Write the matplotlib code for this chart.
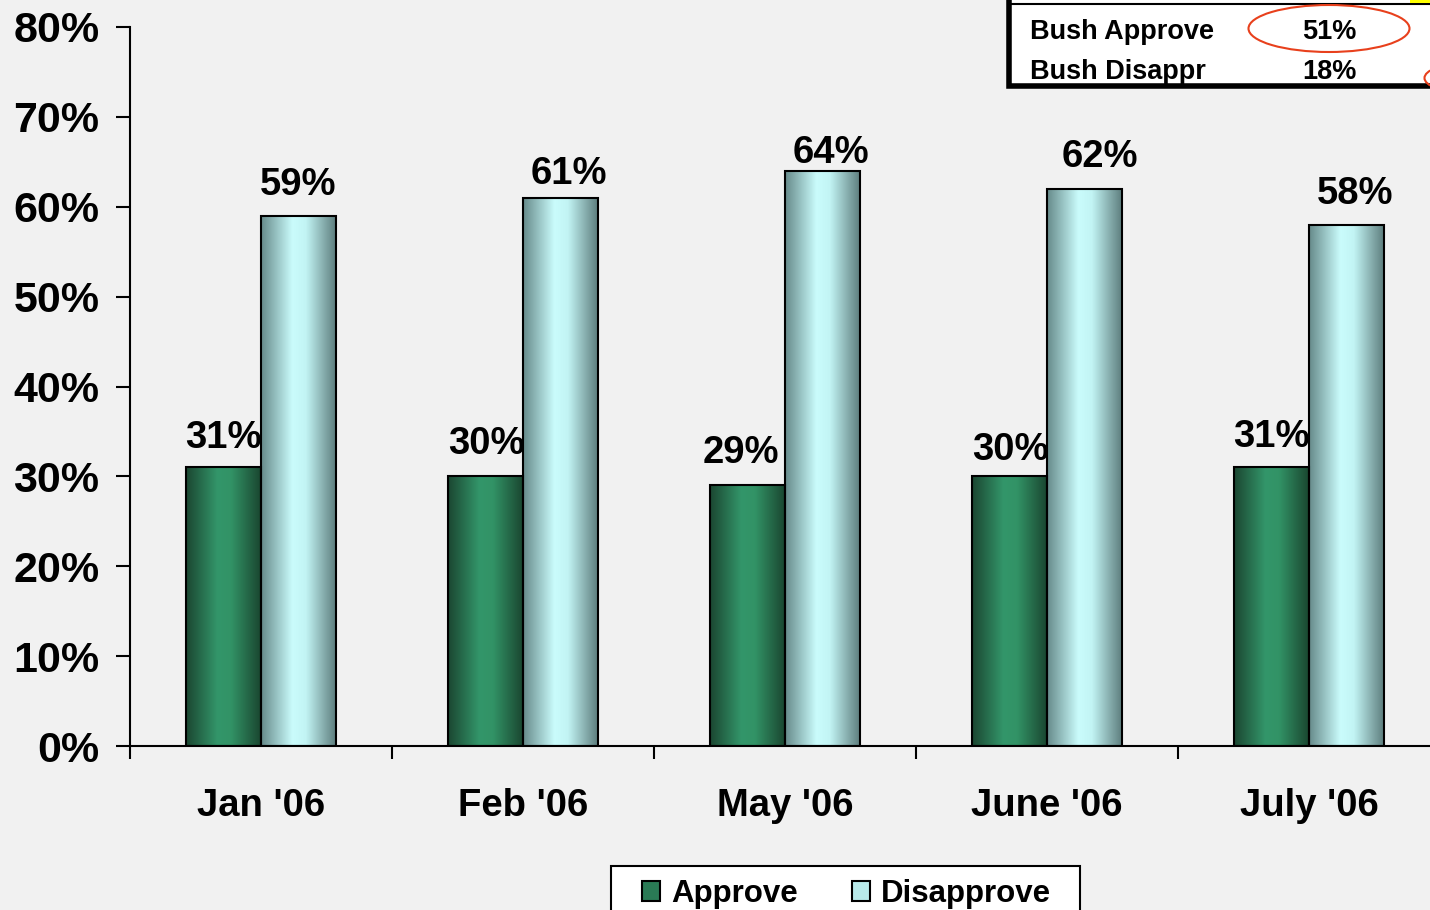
import numpy as np
import matplotlib.pyplot as plt
from matplotlib.colors import LinearSegmentedColormap
from matplotlib.patches import Rectangle, Ellipse

months = ["Jan '06", "Feb '06", "May '06", "June '06", "July '06"]
approve = [31, 30, 29, 30, 31]
disapprove = [59, 61, 64, 62, 58]

table_rows = ["Bush Approve", "Bush Disappr"]
table_vals = ["51%", "18%"]

# hand nudges of the value labels (pixels: sideways, gap above bar)
approve_nudge = [(0, 19), (1, 22), (-7, 22), (1, 16), (0, 20)]
disapprove_nudge = [(0, 21), (8, 14), (8, 8), (15, 22), (9, 21)]

plt.rcParams['font.family'] = ['Liberation Sans', 'DejaVu Sans']
plt.rcParams['font.weight'] = 'bold'

bg = '#f1f1f1'
fig = plt.figure(figsize=(14.3, 9.1), dpi=100, facecolor=bg)
W, H = 1430, 910
ax = fig.add_axes([130 / W, 1 - 746 / H, 1310 / W, 719 / H])
ax.set_facecolor(bg)

green_cmap = LinearSegmentedColormap.from_list(
    'g', [(0, '#1b4631'), (0.42, '#33966a'), (0.6, '#329366'), (1, '#1a4630')])
cyan_cmap = LinearSegmentedColormap.from_list(
    'c', [(0, '#668a8a'), (0.42, '#cafcfc'), (0.6, '#c2f4f4'), (1, '#5e7e7e')])

x = np.arange(len(months))
bw = 0.286
grad = np.linspace(0, 1, 256).reshape(1, -1)


def gradient_bars(xs, vals, cmap, label):
    bars = ax.bar(xs, vals, bw, facecolor='none', edgecolor='black',
                  linewidth=1.5, label=label, zorder=3)
    for b in bars:
        x0, w, h = b.get_x(), b.get_width(), b.get_height()
        im = ax.imshow(grad, cmap=cmap, extent=(x0, x0 + w, 0, h),
                       aspect='auto', interpolation='bicubic', zorder=2)
        im.set_clip_path(b)
    return bars


gradient_bars(x - bw / 2, approve, green_cmap, 'Approve')
gradient_bars(x + bw / 2, disapprove, cyan_cmap, 'Disapprove')

for i in range(len(months)):
    for xs, vals, nudge in [(x - bw / 2, approve, approve_nudge),
                            (x + bw / 2, disapprove, disapprove_nudge)]:
        dx, dy = nudge[i]
        ax.annotate(f"{vals[i]}%", (xs[i], vals[i]), xytext=(dx * 0.72, dy * 0.72),
                    textcoords='offset points', ha='center', va='baseline',
                    fontsize=27.5, fontweight='bold', zorder=4)

ax.set_xlim(-0.5, len(months) - 0.5)
ax.set_ylim(0, 80)
ax.set_yticks(range(0, 81, 10))
ax.set_yticklabels([f"{v}%" for v in range(0, 81, 10)])
ax.set_xticks(np.arange(-0.5, len(months), 1))
ax.set_xticklabels([])
ax.set_xticks(x, minor=True)
ax.set_xticklabels(months, minor=True)
ax.tick_params(axis='y', length=10, width=1.5, direction='out', pad=12,
               labelsize=31)
ax.tick_params(axis='x', which='major', length=9, width=1.5, direction='out')
ax.tick_params(axis='x', which='minor', length=0, pad=30, labelsize=27.5)
for lab in ax.get_xticklabels(minor=True) + ax.get_yticklabels():
    lab.set_fontweight('bold')
for s in ['top', 'right']:
    ax.spines[s].set_visible(False)
for s in ['left', 'bottom']:
    ax.spines[s].set_linewidth(1.5)

# pasted table fragment at the top right
box = Rectangle((1009 / W, 1 - 86 / H), 500 / W, 100 / H, transform=fig.transFigure,
                facecolor='white', edgecolor='black', linewidth=4, zorder=5)
fig.add_artist(box)
fig.add_artist(plt.Line2D([1009 / W, 1], [1 - 4 / H, 1 - 4 / H], transform=fig.transFigure,
                          color='black', linewidth=1.5, zorder=6))
fig.add_artist(Rectangle((1410 / W, 1 - 3 / H), 20 / W, 3 / H, transform=fig.transFigure,
                         facecolor='#ffff00', edgecolor='none', zorder=6))
for j, (name, val) in enumerate(zip(table_rows, table_vals)):
    yb = 1 - (39 + 40 * j) / H
    fig.text(1030 / W, yb, name, fontsize=19.5, fontweight='bold', va='baseline', zorder=7)
    fig.text(1329 / W, yb, val, fontsize=19.5, fontweight='bold', va='baseline',
             ha='center', zorder=7)
fig.add_artist(Ellipse((1329 / W, 1 - 28.5 / H), 161 / W, 47 / H, transform=fig.transFigure,
                       facecolor='none', edgecolor='#e8401c', linewidth=1.5, zorder=7))
fig.add_artist(Ellipse((1462 / W, 1 - 78 / H), 75 / W, 28 / H, transform=fig.transFigure,
                       facecolor='none', edgecolor='#e8401c', linewidth=1.5, zorder=7))

# legend: own frame, entries placed inside it
fig.add_artist(Rectangle((611 / W, -0.05), 469 / W, 0.05 + (910 - 866) / H,
                         transform=fig.transFigure, facecolor='white',
                         edgecolor='black', linewidth=1.5, zorder=5))
handles = [Rectangle((0, 0), 1, 1, facecolor='#2a7a55', edgecolor='black', linewidth=1.5),
           Rectangle((0, 0), 1, 1, facecolor='#b8eaea', edgecolor='black', linewidth=1.5)]
leg = fig.legend(handles, ['Approve', 'Disapprove'], loc='upper left',
                 bbox_to_anchor=(642 / W, 1 - 879 / H), ncol=2,
                 prop={'weight': 'bold', 'size': 22.5}, handlelength=0.57, handleheight=0.57,
                 handletextpad=0.35, columnspacing=1.75, borderpad=0, borderaxespad=0,
                 frameon=False)
leg.set_zorder(6)

fig.savefig('out.png', dpi=100, facecolor=bg)
